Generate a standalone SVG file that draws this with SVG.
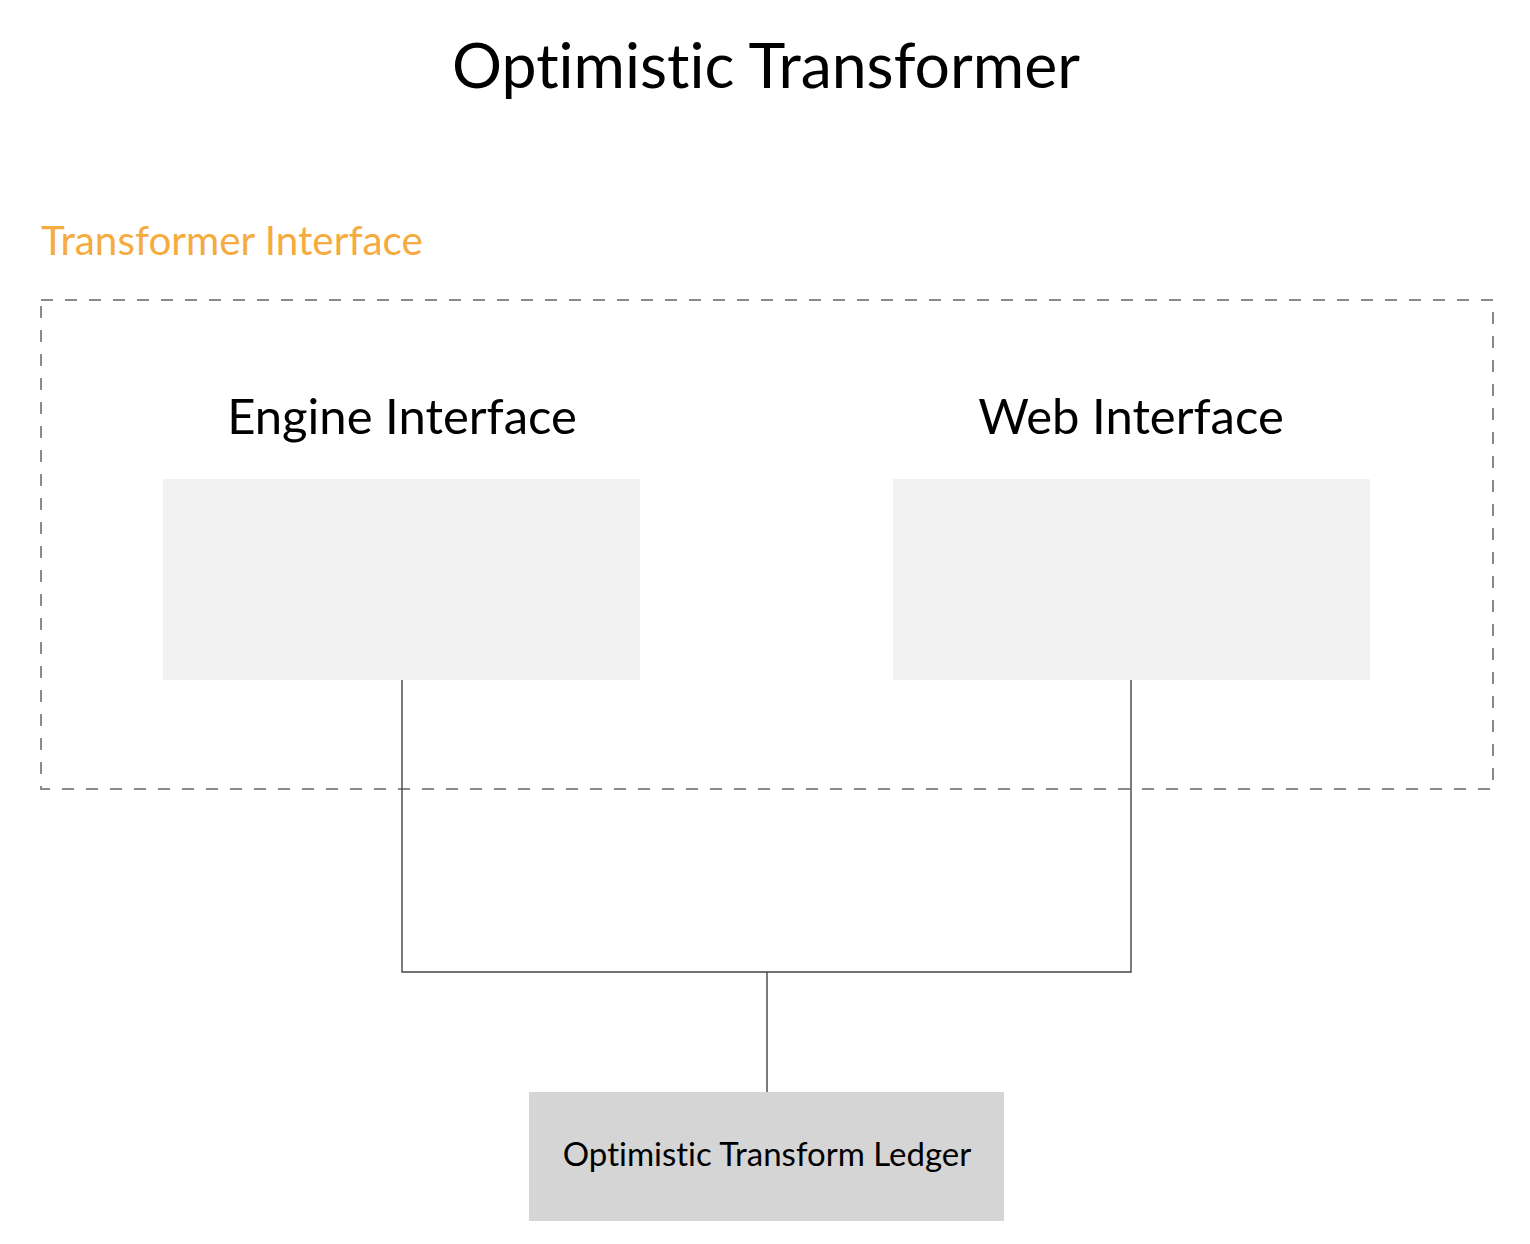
<svg xmlns="http://www.w3.org/2000/svg" width="1530" height="1244" viewBox="0 0 1530 1244">
<style>
text{font-family:"Lato","Noto Sans","Liberation Sans",sans-serif;font-variant-ligatures:none}
.t{fill:#000;text-anchor:middle}
.panel{fill:#f2f2f2}
.conn{fill:none;stroke:#444;stroke-width:1.4}
</style>
<rect width="1530" height="1244" fill="#fff"/>
<text class="t" x="766" y="88" font-size="62.5">Optimistic Transformer</text>
<g id="transformer-interface">
<text x="41" y="255" font-size="40.4" fill="#f5ab3e">Transformer Interface</text>
<rect x="41" y="300" width="1452" height="489" fill="none" stroke="#8a8a8a" stroke-width="2" stroke-dasharray="12 12"/>
</g>
<g id="engine-interface">
<text class="t" x="402" y="434" font-size="49">Engine Interface</text>
<rect class="panel" x="163" y="479" width="477" height="201"/>
</g>
<g id="web-interface">
<text class="t" x="1131" y="434" font-size="49">Web Interface</text>
<rect class="panel" x="893" y="479" width="477" height="201"/>
</g>
<g id="ledger">
<rect x="529" y="1092" width="475" height="129" fill="#d5d5d5"/>
<text class="t" x="767" y="1166" font-size="33">Optimistic Transform Ledger</text>
</g>
<g id="connectors">
<path class="conn" d="M402 680V972H1131V680M767 972V1092"/>
</g>
</svg>
